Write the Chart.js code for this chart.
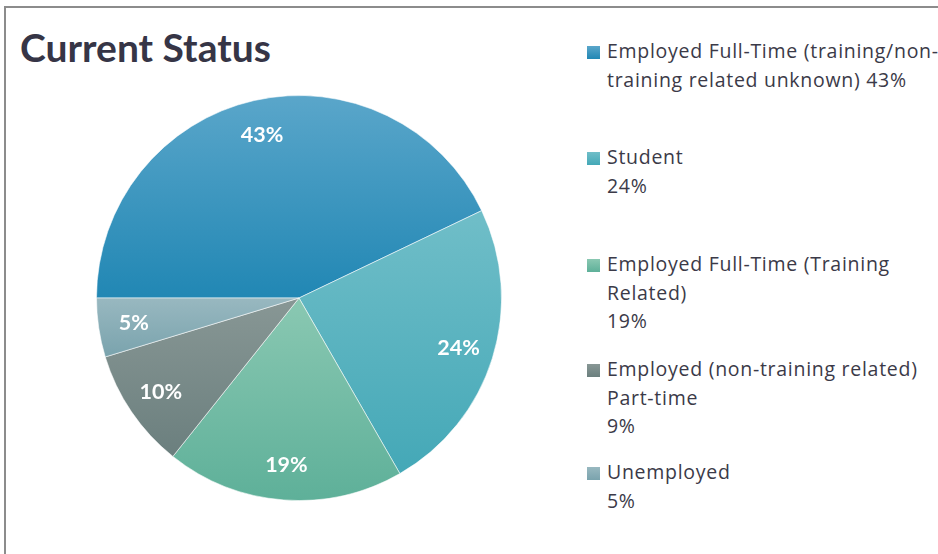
<!DOCTYPE html>
<html>
<head>
<meta charset="utf-8">
<script src="https://cdn.jsdelivr.net/npm/chart.js@4"></script>
<style>
  html, body { margin: 0; padding: 0; background: #fff; width: 938px; height: 554px; overflow: hidden; position: relative; }
  #frame { position: absolute; left: 4px; top: 6px; width: 1000px; height: 700px; border: 2px solid #8c8c8c; box-sizing: border-box; }
  #title { position: absolute; left: 20px; top: 22px; font-family: Lato, "Open Sans", sans-serif; font-weight: 700; font-size: 39px; color: #363546; white-space: nowrap; line-height: 50px; }
  #pieWrap { position: absolute; left: 96px; top: 95px; width: 406px; height: 406px; }
  #legend { position: absolute; left: 587px; top: 0; width: 400px; font-family: "Open Sans", Lato, sans-serif; font-size: 19.5px; letter-spacing: 0.72px; color: #3b3a48; }
  .item { position: absolute; left: 0; white-space: nowrap; line-height: 28.7px; }
  .sw { position: absolute; left: 0; width: 13px; height: 13px; }
  .txt { position: absolute; left: 20px; top: 0; }
</style>
</head>
<body>
<div id="frame"></div>
<div id="title">Current Status</div>
<div id="pieWrap"><canvas id="pie"></canvas></div>
<div id="legend"></div>
<script>
const categories = [
  "Employed Full-Time (training/non-training related unknown)",
  "Student",
  "Employed Full-Time (Training Related)",
  "Employed (non-training related) Part-time",
  "Unemployed"
];
const shares = [42.9, 23.8, 19.0, 9.6, 4.7];
const legendLines = [
  ["Employed Full-Time (training/non-", "training related unknown) 43%"],
  ["Student", "24%"],
  ["Employed Full-Time (Training", "Related)", "19%"],
  ["Employed (non-training related)", "Part-time", "9%"],
  ["Unemployed", "5%"]
];
const gradientTop = ["#5aa6ca", "#70bec8", "#8ac8b2", "#889795", "#98b8c0"];
const gradientBottom = ["#2187b4", "#44a8b7", "#5eb099", "#6b7f7e", "#7aa3ad"];
const swatchColors = ["#2a8dbb", "#52b3c0", "#6dbca3", "#7a8b89", "#88adb6"];

function arcBBox(el) {
  const r = el.outerRadius, cx = el.x, cy = el.y;
  let ys = [cy, cy + r * Math.sin(el.startAngle), cy + r * Math.sin(el.endAngle)];
  for (let k = -2; k <= 3; k++) {
    const top = -Math.PI / 2 + 2 * Math.PI * k;
    const bot = Math.PI / 2 + 2 * Math.PI * k;
    if (top > el.startAngle && top < el.endAngle) ys.push(cy - r);
    if (bot > el.startAngle && bot < el.endAngle) ys.push(cy + r);
  }
  return [Math.min(...ys), Math.max(...ys)];
}

const gradientPlugin = {
  id: 'sliceGradient',
  beforeDatasetsDraw(chart) {
    const ctx = chart.ctx;
    const meta = chart.getDatasetMeta(0);
    meta.data.forEach((el, i) => {
      const [y0, y1] = arcBBox(el);
      const g = ctx.createLinearGradient(0, y0, 0, y1);
      g.addColorStop(0, gradientTop[i]);
      g.addColorStop(1, gradientBottom[i]);
      el.options.backgroundColor = g;
    });
  }
};

const labelPlugin = {
  id: 'sliceLabels',
  afterDatasetsDraw(chart) {
    const ctx = chart.ctx;
    const meta = chart.getDatasetMeta(0);
    ctx.save();
    ctx.font = 'bold 21.5px Lato, "Open Sans", sans-serif';
    ctx.fillStyle = '#ffffff';
    ctx.textAlign = 'center';
    ctx.textBaseline = 'middle';
    meta.data.forEach((el, i) => {
      const mid = (el.startAngle + el.endAngle) / 2;
      const rr = el.outerRadius * 0.825;
      const x = el.x + rr * Math.cos(mid);
      const y = el.y + rr * Math.sin(mid);
      ctx.fillText(Math.round(chart.data.datasets[0].data[i]) + '%', x, y);
    });
    ctx.restore();
  }
};

const chart = new Chart(document.getElementById('pie'), {
  type: 'pie',
  data: {
    labels: categories,
    datasets: [{
      data: shares,
      backgroundColor: swatchColors,
      borderColor: 'rgba(255,255,255,0.55)',
      borderWidth: 1
    }]
  },
  options: {
    responsive: true,
    maintainAspectRatio: false,
    animation: false,
    rotation: -90,
    layout: { padding: 0 },
    plugins: {
      legend: { display: false },
      tooltip: { enabled: false },
      title: { display: false }
    }
  },
  plugins: [gradientPlugin, labelPlugin]
});

// HTML legend built from the chart's data
const legendEl = document.getElementById('legend');
const baselines = [59, 165, 272, 377, 480];
chart.data.labels.forEach((lab, i) => {
  const item = document.createElement('div');
  item.className = 'item';
  item.style.top = (baselines[i] - 22) + 'px';
  const sw = document.createElement('div');
  sw.className = 'sw';
  sw.style.top = '9px';
  sw.style.background = 'linear-gradient(' + gradientTop[i] + ',' + gradientBottom[i] + ')';
  const tx = document.createElement('div');
  tx.className = 'txt';
  tx.innerHTML = legendLines[i].map(s => s.replace(/&/g, '&amp;').replace(/</g, '&lt;')).join('<br>');
  item.appendChild(sw);
  item.appendChild(tx);
  legendEl.appendChild(item);
});
</script>
</body>
</html>
